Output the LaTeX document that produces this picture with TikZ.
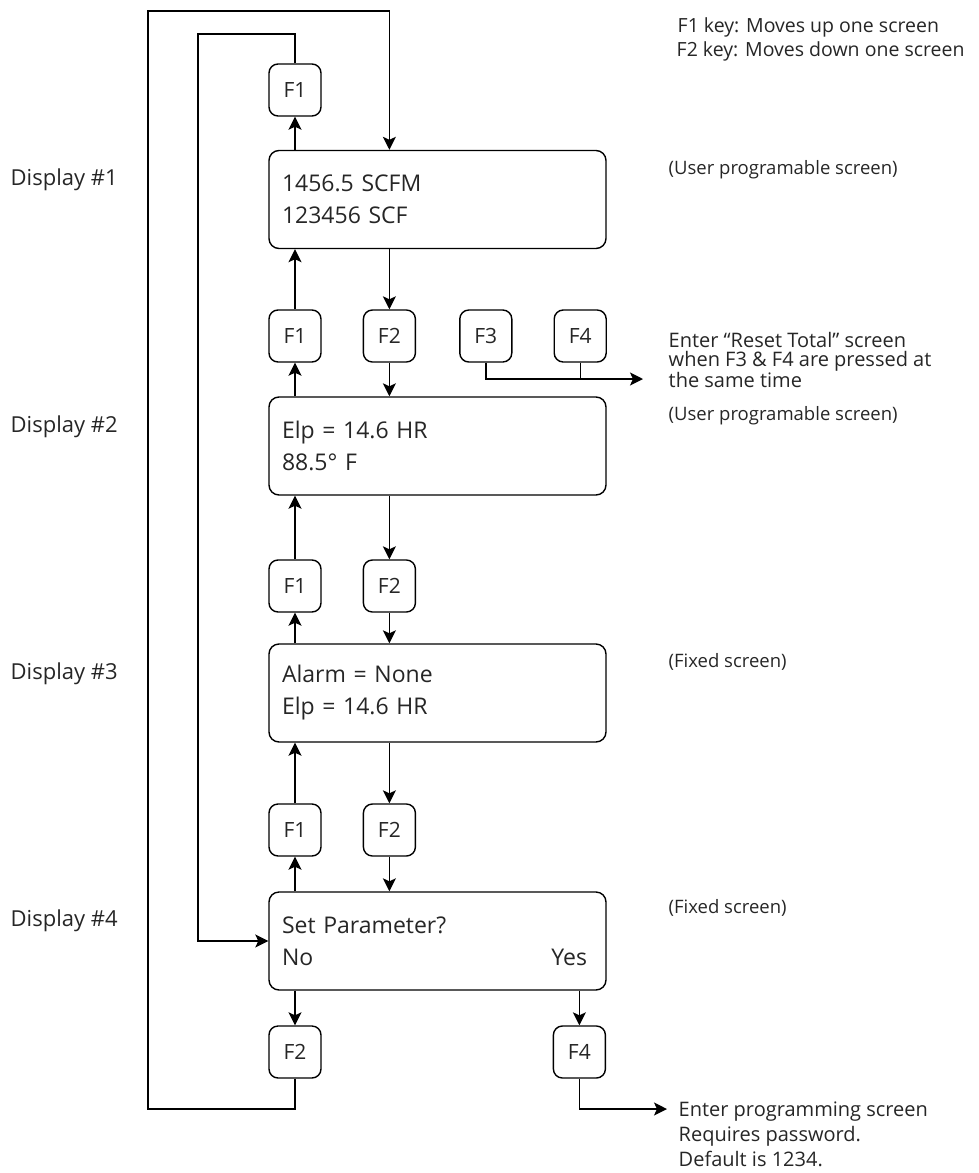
\documentclass[tikz,border=0pt]{standalone}
\usepackage{fontspec}
\setmainfont{Open Sans}
\usetikzlibrary{arrows.meta,positioning}

\begin{document}
\begin{tikzpicture}[x=1pt,y=-1pt,line width=1.4pt,text=black!85,
  disp/.style={draw,rounded corners=10pt,minimum width=337pt,minimum height=98pt,inner xsep=13pt,
    text width=311pt,align=left,font=\fontsize{23}{32}\selectfont},
  key/.style={draw,rounded corners=9pt,minimum size=52pt,inner sep=0pt,font=\fontsize{21}{25}\selectfont},
  lbl/.style={anchor=west,inner sep=0pt,font=\fontsize{22}{26}\selectfont},
  note/.style={anchor=west,align=left,inner sep=0pt,font=\fontsize{18.5}{25}\selectfont},
  arr/.style={-{Stealth[length=13pt,width=13pt,inset=3pt]}}]
\useasboundingbox (0,0) rectangle (978,1173);
% screens
\node[disp](d1) at (437.5,199.5){1456.5 SCFM\\123456 SCF};
\node[disp](d2) at (437.5,446){Elp = 14.6 HR\\88.5° F};
\node[disp](d3) at (437.5,693){Alarm = None\\Elp = 14.6 HR};
\node[disp](d4) at (437.5,941){Set Parameter?\\No\hfill Yes\hspace*{6pt}};
\node[lbl](l1) at (10,180){Display \#1};
\node[lbl](l2) at (10,427){Display \#2};
\node[lbl](l3) at (10,674){Display \#3};
\node[lbl](l4) at (10,921){Display \#4};
% keys
\node[key](k0) at (295,90){F1};
\node[key](k1a) at (295,336){F1};
\node[key,right=41pt of k1a](k1b){F2};
\node[key,right=43pt of k1b](k1c){F3};
\node[key,right=41pt of k1c](k1d){F4};
\node[key](k2a) at (295,586){F1};
\node[key,right=41pt of k2a](k2b){F2};
\node[key](k3a) at (295,830){F1};
\node[key,right=41pt of k3a](k3b){F2};
\node[key](k4a) at (295,1052){F2};
\node[key,right=231pt of k4a](k4b){F4};
% notes
\node[note,font=\fontsize{19.5}{25}\selectfont](n1) at (677,27){F1 key: Moves up one screen};
\node[note,font=\fontsize{19.5}{25}\selectfont](n2) at (676,51){F2 key: Moves down one screen};
\node[note](n3) at (668,170){(User programable screen)};
\node[note,font=\fontsize{20}{18.5}\selectfont](n4) at (668,360){Enter “Reset Total” screen\\when F3 \& F4 are pressed at\\the same time};
\node[note](n5) at (668,416){(User programable screen)};
\node[note](n6) at (668,662){(Fixed screen)};
\node[note](n7) at (668,908){(Fixed screen)};
\node[note,font=\fontsize{20}{25}\selectfont](n8) at (678,1134){Enter programming screen\\Requires password.\\Default is 1234.};
\coordinate (outerTL) at (148,11);
\coordinate (outerBL) at (148,1109);
\coordinate (innerTL) at (198,34);
\coordinate (resetEnd) at (643,379);
\coordinate (progEnd) at (667,1109);
% loops
\draw[arr](k4a.south)|-(outerBL)--(outerTL)-|(d1.north -| k1b);
\draw[arr](k0.north)|-(innerTL)|-(d4.west);
\draw[arr](d1.north -| k0)--(k0);
% display 1 / 2
\draw[arr](k1a)--(d1.south -| k1a);
\draw[arr](d2.north -| k1a)--(k1a);
\draw[arr](d1.south -| k1b)--(k1b);
\draw[arr](k1b)--(d2.north -| k1b);
\draw[arr](k1c)|-(resetEnd);
\draw(k1d)--(k1d |- resetEnd);
% display 2 / 3
\draw[arr](k2a)--(d2.south -| k2a);
\draw[arr](d3.north -| k2a)--(k2a);
\draw[arr](d2.south -| k2b)--(k2b);
\draw[arr](k2b)--(d3.north -| k2b);
% display 3 / 4
\draw[arr](k3a)--(d3.south -| k3a);
\draw[arr](d4.north -| k3a)--(k3a);
\draw[arr](d3.south -| k3b)--(k3b);
\draw[arr](k3b)--(d4.north -| k3b);
% display 4
\draw[arr](d4.south -| k4a)--(k4a);
\draw[arr](d4.south -| k4b)--(k4b);
\draw[arr](k4b)|-(progEnd);
\end{tikzpicture}
\end{document}
